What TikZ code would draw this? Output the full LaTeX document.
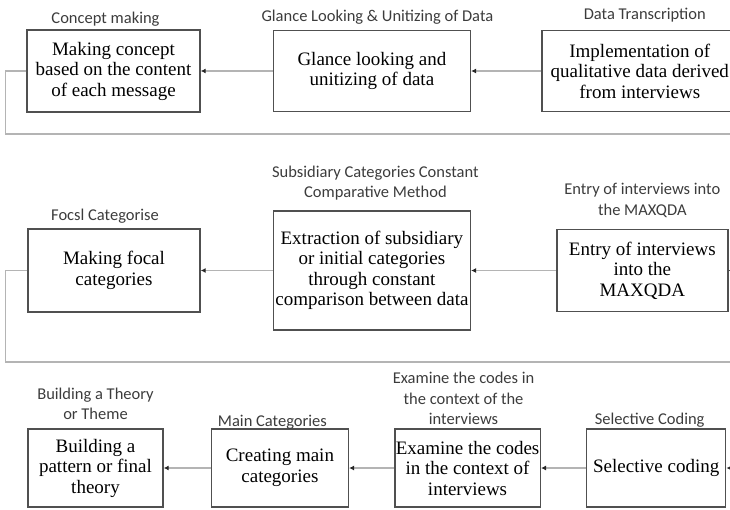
\documentclass[tikz,border=0pt]{standalone}
\usepackage{fontspec}
\setmainfont{Liberation Serif}
\newfontfamily\capfamily{Carlito}
\usetikzlibrary{arrows.meta,
positioning}
\definecolor{boxline}{HTML}{505050}
\definecolor{linkgray}{HTML}{B4B4B4}
\definecolor{capgray}{HTML}{3C3C3C}
\newcommand*{\boxtext}{\fontsize{19}{20.5}\selectfont}
\newcommand*{\captext}{\capfamily\fontsize{16.5}{20.5}\selectfont}

\begin{document}
\begin{tikzpicture} [x=1pt, y=-1pt,
    >={Latex[length=5pt, width=5pt, color=black!85]},
    main node/.style={rectangle, draw=boxline, line width=1.4pt, fill=white,
        align=center, inner xsep=1pt, inner ysep=2pt, font=\boxtext},
    cap label/.style={align=center, inner sep=0pt, text depth=4pt,
        text=capgray, font=\captext},
    flow/.style={->, draw=linkgray, line width=1.5pt},
    loop line/.style={-, draw=linkgray, line width=1.5pt}
  ]

  \clip (0,0) rectangle (730,509);

  % first row
  \node [main node,
    minimum width = 173pt,
    minimum height = 82pt
  ] (concept) at (113.5, 71) {Making concept\\based on the content\\of each message};

  \node [main node,
    minimum width = 197pt,
    minimum height = 81pt,
    right = 72pt of concept
  ] (glance) {Glance looking and\\unitizing of data};

  \node [main node,
    minimum width = 196pt,
    minimum height = 81pt,
    right = 70pt of glance
  ] (transc) {Implementation of\\qualitative data derived\\from interviews};

  \node [cap label, above = 1.5pt of concept, xshift = -8pt] (concepttl) {Concept making};
  \node [cap label, above = 4.5pt of glance, xshift = 5.5pt] (glancetl) {Glance Looking \& Unitizing of Data};
  \node [cap label, above = 6.5pt of transc, xshift = 5pt] (transctl) {Data Transcription};

  \draw [flow] (transc.west) -- (glance.east);
  \draw [flow] (glance.west) -- (concept.east);

  \coordinate (loopa) at (740, 134);
  \draw [loop line] (concept.west) -- ++(-21, 0) |- (loopa);

  % second row
  \node [main node,
    minimum width = 172pt,
    minimum height = 83pt
  ] (focal) at (114, 270.5) {Making focal\\categories};

  \node [main node,
    minimum width = 197pt,
    minimum height = 119pt,
    right = 72pt of focal
  ] (subsid) {Extraction of subsidiary\\or initial categories\\through constant\\comparison between data};

  \node [main node,
    minimum width = 171pt,
    minimum height = 82pt,
    right = 85pt of subsid
  ] (entry) {Entry of interviews\\into the\\MAXQDA};

  \node [cap label, above = 3.5pt of focal, xshift = -9pt] (focaltl) {Focsl Categorise};
  \node [cap label, above = 8.5pt of subsid, xshift = 3.5pt] (subsidtl) {Subsidiary Categories Constant\\Comparative Method};
  \node [cap label, above = 9.5pt of entry] (entrytl) {Entry of interviews into\\the MAXQDA};

  \coordinate (entin) at (745, 270.5);
  \draw [flow] (entin) -- (entry.east);
  \draw [flow] (entry.west) -- (subsid.east);
  \draw [flow] (subsid.west) -- (focal.east);

  \coordinate (loopb) at (740, 362);
  \draw [loop line] (focal.west) -- ++(-22, 0) |- (loopb);

  % third row
  \node [main node,
    minimum width = 135pt,
    minimum height = 78pt
  ] (theory) at (95.5, 468) {Building a\\pattern or final\\theory};

  \node [main node,
    minimum width = 137pt,
    minimum height = 78pt,
    right = 47pt of theory
  ] (maincat) {Creating main\\categories};

  \node [main node,
    minimum width = 144pt,
    minimum height = 78pt,
    right = 45pt of maincat
  ] (examine) {Examine the codes\\in the context of\\interviews};

  \node [main node,
    minimum width = 139pt,
    minimum height = 78pt,
    right = 45pt of examine
  ] (selcod) {Selective coding};

  \node [cap label, above = 4.5pt of theory] (theorytl) {Building a Theory\\or Theme};
  \node [cap label, above = -2.5pt of maincat, xshift = -7.5pt] (maincattl) {Main Categories};
  \node [cap label, above = -0.5pt of examine, xshift = -4pt] (examinetl) {Examine the codes in\\the context of the\\interviews};
  \node [cap label, above = -0.5pt of selcod, xshift = -6.5pt] (selcodtl) {Selective Coding};

  \coordinate (selin) at (745, 468);
  \draw [flow] (selin) -- (selcod.east);
  \draw [flow] (selcod.west) -- (examine.east);
  \draw [flow] (examine.west) -- (maincat.east);
  \draw [flow] (maincat.west) -- (theory.east);

\end{tikzpicture}
\end{document}
